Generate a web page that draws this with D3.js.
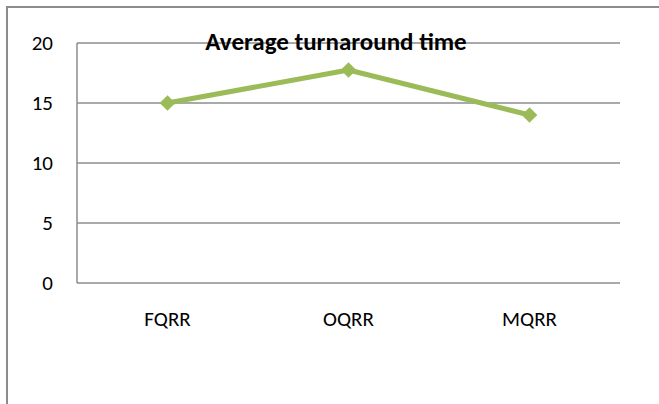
<!DOCTYPE html>
<html>
<head>
<meta charset="utf-8">
<script src="https://cdn.jsdelivr.net/npm/d3@7"></script>
<style>
  html, body { margin: 0; padding: 0; background: #fff; }
  svg { display: block; }
</style>
</head>
<body>
<svg id="chart" width="659" height="404"></svg>
<script>
// Chart data
const categories = ["FQRR", "OQRR", "MQRR"];
const values = [15, 17.75, 14];
const yTicks = [0, 5, 10, 15, 20];
const title = "Average turnaround time";

const svg = d3.select("#chart");
const W = 659, H = 404;
const font = "Carlito, Lato, 'Open Sans', sans-serif";

// Outer chart frame (extends past the right and bottom edges)
svg.append("rect")
  .attr("x", 7).attr("y", 7)
  .attr("width", W + 20).attr("height", H + 20)
  .attr("fill", "#fff")
  .attr("stroke", "#8c8c8c")
  .attr("stroke-width", 2);

const plot = { left: 77, right: 620, top: 43, bottom: 283 };

const x = d3.scaleBand()
  .domain(categories)
  .range([plot.left, plot.right]);

const y = d3.scaleLinear()
  .domain([0, 20])
  .range([plot.bottom, plot.top]);

// Horizontal gridlines
svg.append("g")
  .selectAll("line")
  .data(yTicks)
  .join("line")
  .attr("x1", plot.left).attr("x2", plot.right)
  .attr("y1", d => y(d)).attr("y2", d => y(d))
  .attr("stroke", "#8c8c8c")
  .attr("stroke-width", 1.5);

// Vertical axis line
svg.append("line")
  .attr("x1", plot.left).attr("x2", plot.left)
  .attr("y1", plot.top).attr("y2", plot.bottom)
  .attr("stroke", "#8c8c8c")
  .attr("stroke-width", 1.5);

// Y tick labels
svg.append("g")
  .selectAll("text")
  .data(yTicks)
  .join("text")
  .attr("x", 53)
  .attr("y", d => y(d) + 7)
  .attr("text-anchor", "end")
  .attr("font-family", font)
  .attr("font-size", 21)
  .attr("fill", "#000")
  .text(d => d);

// Category labels
svg.append("g")
  .selectAll("text")
  .data(categories)
  .join("text")
  .attr("x", d => x(d) + x.bandwidth() / 2)
  .attr("y", 326)
  .attr("text-anchor", "middle")
  .attr("font-family", font)
  .attr("font-size", 21)
  .attr("fill", "#000")
  .text(d => d);

const pts = categories.map((c, i) => ({ c, v: values[i] }));

// Series line
svg.append("path")
  .datum(pts)
  .attr("fill", "none")
  .attr("stroke", "#9bbb59")
  .attr("stroke-width", 5)
  .attr("stroke-linejoin", "round")
  .attr("d", d3.line()
    .x(d => x(d.c) + x.bandwidth() / 2)
    .y(d => y(d.v)));

// Diamond markers
svg.append("g")
  .selectAll("path")
  .data(pts)
  .join("path")
  .attr("transform", d => `translate(${x(d.c) + x.bandwidth() / 2},${y(d.v)})`)
  .attr("d", d3.symbol().type(d3.symbolDiamond2).size(155))
  .attr("fill", "#9bbb59");

// Title
svg.append("text")
  .attr("x", 336)
  .attr("y", 50)
  .attr("text-anchor", "middle")
  .attr("font-family", font)
  .attr("font-size", 25)
  .attr("font-weight", "bold")
  .attr("fill", "#000")
  .text(title);
</script>
</body>
</html>
